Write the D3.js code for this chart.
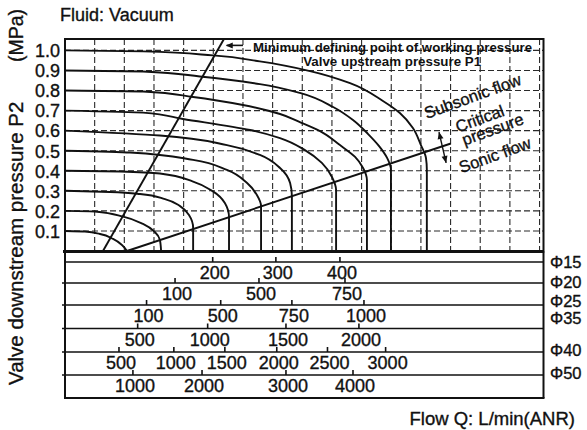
<!DOCTYPE html>
<html>
<head>
<meta charset="utf-8">
<script src="https://cdn.jsdelivr.net/npm/d3@7"></script>
<style>
  body { margin: 0; background: #fff; }
  svg { font-family: "Liberation Sans", Arial, sans-serif; }
  .heavy { stroke: #111; stroke-width: 0.35px; }
</style>
</head>
<body>
<svg id="chart" width="587" height="430"></svg>
<script>
// flow axis is in grid divisions (0..16), pressure in MPa

const pressureTicks = [0.1, 0.2, 0.3, 0.4, 0.5, 0.6, 0.7, 0.8, 0.9, 1.0]

// one curve per upstream pressure P1, points are [flow, P2]
const curveP01 = [[0, 0.1], [0.67, 0.097], [1.18, 0.085], [1.62, 0.06], [1.92, 0.03], [2.09, 0]]
const curveP02 = [[0, 0.2], [1.01, 0.197], [1.96, 0.171], [2.63, 0.135], [3.03, 0.095], [3.2, 0.055], [3.24, 0]]
const curveP03 = [[0, 0.3], [1.52, 0.294], [2.53, 0.284], [3.37, 0.259], [3.88, 0.224], [4.18, 0.179], [4.32, 0.115], [4.32, 0]]
const curveP04 = [[0, 0.4], [1.85, 0.396], [3.2, 0.386], [4.32, 0.346], [4.99, 0.297], [5.39, 0.239], [5.53, 0.169], [5.53, 0]]
const curveP05 = [[0, 0.5], [2.19, 0.491], [4.32, 0.454], [5.46, 0.404], [6.14, 0.339], [6.47, 0.279], [6.61, 0.224], [6.61, 0]]
const curveP06 = [[0, 0.6], [3.2, 0.576], [5.46, 0.528], [6.57, 0.479], [7.25, 0.414], [7.59, 0.339], [7.65, 0.274], [7.65, 0]]
const curveP07 = [[0, 0.7], [2.63, 0.69], [3.98, 0.658], [6.24, 0.603], [7.25, 0.563], [8.09, 0.503], [8.66, 0.439], [9.0, 0.369], [9.14, 0.304], [9.14, 0]]
const curveP08 = [[0, 0.8], [2.63, 0.795], [4.32, 0.768], [6.0, 0.728], [7.25, 0.683], [7.92, 0.643], [8.6, 0.598], [9.27, 0.528], [9.78, 0.469], [10.05, 0.414], [10.18, 0.354], [10.18, 0]]
const curveP09 = [[0, 0.9], [2.63, 0.895], [4.55, 0.87], [6.57, 0.832], [7.92, 0.788], [9.04, 0.718], [9.71, 0.653], [10.22, 0.583], [10.59, 0.523], [10.86, 0.464], [10.99, 0.404], [10.99, 0]]
const curveP10 = [[0, 1.0], [2.63, 0.995], [4.99, 0.975], [6.57, 0.945], [8.26, 0.897], [9.61, 0.837], [10.72, 0.748], [11.29, 0.688], [11.73, 0.613], [12.0, 0.528], [12.17, 0.464], [12.2, 0.404], [12.2, 0]]
const curves = [curveP01, curveP02, curveP03, curveP04, curveP05, curveP06, curveP07, curveP08, curveP09, curveP10]

// critical pressure line and minimum working pressure line
const sonicLine = [[2.09, 0], [13.01, 0.536]]
const minimumLine = [[1.28, 0], [5.36, 1.057]]

// flow scales for each bore, tick value and where it sits on the flow axis
const bores = ["Φ15", "Φ20", "Φ25", "Φ35", "Φ40", "Φ50"]
const ticksD15 = [200, 300, 400]
const posD15 = [4.98, 7.11, 9.27]
const ticksD20 = [100, 500, 750]
const posD20 = [3.71, 6.54, 9.44]
const ticksD25 = [100, 500, 750, 1000]
const posD25 = [2.75, 5.25, 7.65, 10.08]
const ticksD35 = [500, 1000, 1500, 2000]
const posD35 = [2.45, 4.81, 7.45, 9.91]
const ticksD40 = [500, 1000, 1500, 2000, 2500, 3000]
const posD40 = [1.82, 3.67, 5.39, 7.14, 8.85, 10.81]
const ticksD50 = [1000, 2000, 3000, 4000]
const posD50 = [2.29, 4.62, 7.45, 9.71]
const boreTicks = [ticksD15, ticksD20, ticksD25, ticksD35, ticksD40, ticksD50]
const borePos = [posD15, posD20, posD25, posD35, posD40, posD50]

// -------------------

const svg = d3.select("#chart")
const ink = "#111"

const plotLeft = 65, plotRight = 543.5, plotTop = 39, plotBottom = 251.5
const x = d3.scaleLinear().domain([0, 16.15]).range([plotLeft, plotRight + 0.5])
const y = d3.scaleLinear().domain([0, 1]).range([251, 50.4])

// clip for lines inside the plot box
svg.append("defs").append("clipPath").attr("id", "plotClip")
  .append("rect").attr("x", plotLeft).attr("y", plotTop)
  .attr("width", plotRight - plotLeft).attr("height", plotBottom - plotTop)

// dashed grid
const grid = svg.append("g").attr("stroke", "#2a2a2a").attr("stroke-width", 1.1).attr("stroke-dasharray", "6,3")
grid.selectAll(".gx").data(d3.range(1, 17)).join("line")
  .attr("x1", d => x(d)).attr("x2", d => x(d))
  .attr("y1", plotTop).attr("y2", plotBottom)
grid.selectAll(".gy").data(pressureTicks).join("line")
  .attr("x1", plotLeft).attr("x2", plotRight)
  .attr("y1", d => y(d)).attr("y2", d => y(d))

// pressure axis labels
const yAxis = svg.append("g")
  .attr("transform", `translate(${plotLeft},0)`)
  .call(d3.axisLeft(y).tickValues(pressureTicks).tickFormat(d3.format(".1f")).tickSize(0).tickPadding(5))
yAxis.select(".domain").remove()
yAxis.attr("font-family", null).attr("font-size", null)
yAxis.selectAll("text")
  .attr("class", "heavy")
  .attr("font-size", 18).attr("fill", ink).attr("dy", "0.35em")

// curves
const line = d3.line().x(d => x(d[0])).y(d => y(d[1])).curve(d3.curveMonotoneY)
const straight = d3.line().x(d => x(d[0])).y(d => y(d[1]))

const plot = svg.append("g").attr("clip-path", "url(#plotClip)")
plot.selectAll(".curve").data(curves).join("path")
  .attr("d", line)
  .attr("fill", "none").attr("stroke", ink).attr("stroke-width", 1.9)
plot.append("path").attr("d", straight(sonicLine))
  .attr("fill", "none").attr("stroke", ink).attr("stroke-width", 1.9)
plot.append("path").attr("d", straight(minimumLine))
  .attr("fill", "none").attr("stroke", ink).attr("stroke-width", 1.9)

// plot frame
svg.append("rect")
  .attr("x", plotLeft).attr("y", plotTop).attr("width", plotRight - plotLeft).attr("height", plotBottom - plotTop)
  .attr("fill", "none").attr("stroke", ink).attr("stroke-width", 2)
svg.append("line").attr("x1", plotLeft - 2).attr("x2", plotRight).attr("y1", plotBottom).attr("y2", plotBottom)
  .attr("stroke", ink).attr("stroke-width", 3)

// annotations
const arrowHead = (tipX, tipY, angle) => {
  const a = angle * Math.PI / 180, len = 7, half = 3
  const bx = tipX - len * Math.cos(a), by = tipY - len * Math.sin(a)
  const nx = -Math.sin(a) * half, ny = Math.cos(a) * half
  return `M${tipX},${tipY}L${bx + nx},${by + ny}L${bx - nx},${by - ny}Z`
}

const ann = svg.append("g").attr("fill", ink)
ann.append("line")
  .attr("x1", x(5.45)).attr("x2", x(6.0)).attr("y1", y(1.025)).attr("y2", y(1.025))
  .attr("stroke", ink).attr("stroke-width", 1.6)
ann.append("path").attr("d", arrowHead(x(5.42), y(1.025), 180))

ann.append("text")
  .attr("x", x(6.34)).attr("y", y(0.993))
  .attr("font-size", 13.5).attr("font-weight", "bold")
  .attr("textLength", 279).attr("lengthAdjust", "spacingAndGlyphs")
  .text("Minimum defining point of working pressure")
ann.append("text")
  .attr("x", x(8.03)).attr("y", y(0.921))
  .attr("font-size", 13.5).attr("font-weight", "bold")
  .attr("textLength", 178).attr("lengthAdjust", "spacingAndGlyphs")
  .text("Valve upstream pressure P1")

const flowNotes = [
  { t: "Subsonic flow", g: 12.2, p: 0.658 },
  { t: "Critical", g: 13.25, p: 0.59 },
  { t: "pressure", g: 13.47, p: 0.525 },
  { t: "Sonic flow", g: 13.37, p: 0.387 },
]
ann.selectAll(".note").data(flowNotes).join("text")
  .attr("class", "heavy")
  .attr("transform", d => `translate(${x(d.g)},${y(d.p)}) rotate(-20)`)
  .attr("font-size", 16.5)
  .text(d => d.t)

// double arrow across the critical line
const dA = [12.61, 0.593], dB = [12.85, 0.439]
const angAB = Math.atan2(y(dB[1]) - y(dA[1]), x(dB[0]) - x(dA[0])) * 180 / Math.PI
ann.append("line")
  .attr("x1", x(dA[0])).attr("y1", y(dA[1])).attr("x2", x(dB[0])).attr("y2", y(dB[1]))
  .attr("stroke", ink).attr("stroke-width", 1.4)
ann.append("path").attr("d", arrowHead(x(dA[0]), y(dA[1]), angAB + 180))
ann.append("path").attr("d", arrowHead(x(dB[0]), y(dB[1]), angAB))

// bore flow table
const rowY = [262, 283, 305, 328.5, 352, 375]
const tableBottom = 398
const table = svg.append("g")
table.selectAll(".rowline").data(rowY).join("line")
  .attr("x1", (d, i) => i === 0 ? plotLeft : plotLeft - 3).attr("x2", plotRight)
  .attr("y1", d => d).attr("y2", d => d)
  .attr("stroke", ink).attr("stroke-width", 1.6)
table.append("line").attr("x1", plotLeft).attr("x2", plotLeft).attr("y1", plotBottom).attr("y2", tableBottom)
  .attr("stroke", ink).attr("stroke-width", 2)
table.append("line").attr("x1", plotRight).attr("x2", plotRight).attr("y1", plotBottom).attr("y2", tableBottom)
  .attr("stroke", ink).attr("stroke-width", 2)
table.append("line").attr("x1", plotLeft - 1).attr("x2", plotRight + 1).attr("y1", tableBottom).attr("y2", tableBottom)
  .attr("stroke", ink).attr("stroke-width", 2)

boreTicks.forEach((ticks, r) => {
  const scale = d3.scaleLinear().domain(ticks).range(borePos[r].map(x))
  const g = table.append("g")
  g.selectAll("line").data(ticks).join("line")
    .attr("x1", d => scale(d)).attr("x2", d => scale(d))
    .attr("y1", rowY[r] - 5).attr("y2", rowY[r])
    .attr("stroke", ink).attr("stroke-width", 1.6)
  g.selectAll("text").data(ticks).join("text")
    .attr("class", "heavy")
    .attr("x", d => scale(d) + 2).attr("y", rowY[r] + 17)
    .attr("text-anchor", "middle").attr("font-size", 18).attr("fill", ink)
    .text(d => d)
})

const boreLabelY = [262.5, 282.5, 301.5, 318, 350, 373]
svg.selectAll(".bore").data(bores).join("text")
  .attr("class", "heavy")
  .attr("x", 550).attr("y", (d, i) => boreLabelY[i]).attr("dy", "0.35em")
  .attr("font-size", 16.5).attr("fill", ink)
  .text(d => d)

// titles
svg.append("text").attr("class", "heavy")
  .attr("x", 60).attr("y", 21).attr("font-size", 18).attr("fill", ink)
  .text("Fluid: Vacuum")
svg.append("text").attr("class", "heavy")
  .attr("x", 575).attr("y", 425).attr("text-anchor", "end")
  .attr("font-size", 18.5).attr("fill", ink)
  .text("Flow Q: L/min(ANR)")
svg.append("text").attr("class", "heavy")
  .attr("transform", "translate(23,385) rotate(-90)")
  .attr("font-size", 20.5).attr("fill", ink)
  .text("Valve downstream pressure  P2")
svg.append("text").attr("class", "heavy")
  .attr("transform", "translate(23,62) rotate(-90)")
  .attr("font-size", 19.5).attr("fill", ink)
  .text("(MPa)")
</script>
</body>
</html>
